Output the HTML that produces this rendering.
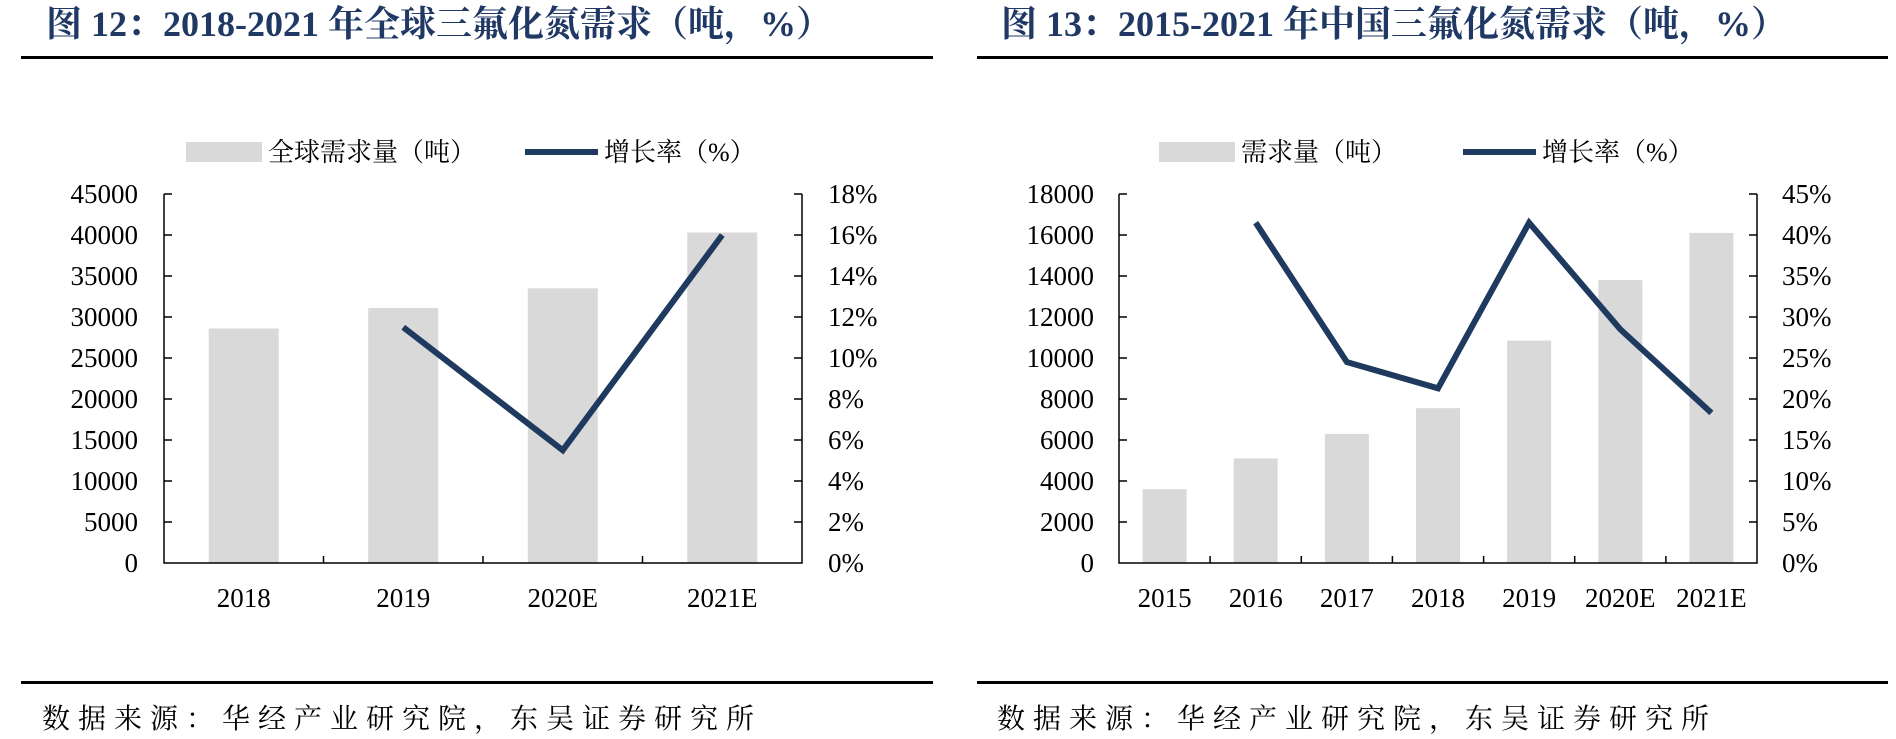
<!DOCTYPE html>
<html><head><meta charset="utf-8"><style>
body{margin:0;background:#fff;width:1896px;height:739px;overflow:hidden}
svg{display:block}
.t{font-family:"Liberation Serif","Noto Serif CJK SC",serif;font-weight:bold;font-size:36px;fill:#1f3864}
.n{font-family:"Liberation Serif",serif;font-size:27px;fill:#000}
.l{font-family:"Liberation Serif","Noto Serif CJK SC",serif;font-size:26px;fill:#000}
.s{font-family:"Liberation Serif","Noto Serif CJK SC",serif;font-size:28px;letter-spacing:8px;fill:#000}
</style></head><body>
<svg width="1896" height="739" viewBox="0 0 1896 739" xmlns="http://www.w3.org/2000/svg">
<!-- Left chart -->
<text class="t" x="46" y="36">图 12：2018-2021 年全球三氟化氮需求（吨，%）</text>
<rect x="21" y="56" width="912" height="3" fill="#000"/>
<rect x="21" y="681" width="912" height="3" fill="#000"/>
<text class="s" x="42" y="728">数据来源：华经产业研究院，东吴证券研究所</text>
<rect x="186" y="142" width="76" height="20" fill="#d9d9d9"/>
<text class="l" x="268" y="161">全球需求量（吨）</text>
<line x1="525" y1="152" x2="598" y2="152" stroke="#1f3a5f" stroke-width="6"/>
<text class="l" x="604" y="161">增长率（%）</text>
<g fill="#d9d9d9">
<rect x="208.75" y="328.5" width="70" height="234.5"/>
<rect x="368.25" y="308" width="70" height="255"/>
<rect x="527.75" y="288.3" width="70" height="274.7"/>
<rect x="687.25" y="232.5" width="70" height="330.5"/>
</g>
<g stroke="#000" stroke-width="1.5" fill="none">
<path d="M164 194V563H802V194"/>
<path d="M164 194h8M164 235h8M164 276h8M164 317h8M164 358h8M164 399h8M164 440h8M164 481h8M164 522h8"/>
<path d="M802 194h-8M802 235h-8M802 276h-8M802 317h-8M802 358h-8M802 399h-8M802 440h-8M802 481h-8M802 522h-8"/>
<path d="M323.5 563v-7M483 563v-7M642.5 563v-7"/>
</g>
<polyline points="403.25,327.3 562.75,450.3 722.25,235" fill="none" stroke="#1f3a5f" stroke-width="6" stroke-linejoin="miter"/>
<g class="n" text-anchor="end">
<text x="138" y="203">45000</text><text x="138" y="244">40000</text><text x="138" y="285">35000</text><text x="138" y="326">30000</text><text x="138" y="367">25000</text><text x="138" y="408">20000</text><text x="138" y="449">15000</text><text x="138" y="490">10000</text><text x="138" y="531">5000</text><text x="138" y="572">0</text>
</g>
<g class="n">
<text x="828" y="203">18%</text><text x="828" y="244">16%</text><text x="828" y="285">14%</text><text x="828" y="326">12%</text><text x="828" y="367">10%</text><text x="828" y="408">8%</text><text x="828" y="449">6%</text><text x="828" y="490">4%</text><text x="828" y="531">2%</text><text x="828" y="572">0%</text>
</g>
<g class="n" text-anchor="middle">
<text x="243.75" y="607">2018</text><text x="403.25" y="607">2019</text><text x="562.75" y="607">2020E</text><text x="722.25" y="607">2021E</text>
</g>
<!-- Right chart -->
<text class="t" x="1001" y="36">图 13：2015-2021 年中国三氟化氮需求（吨，%）</text>
<rect x="977" y="56" width="911" height="3" fill="#000"/>
<rect x="977" y="681" width="911" height="3" fill="#000"/>
<text class="s" x="997" y="728">数据来源：华经产业研究院，东吴证券研究所</text>
<rect x="1159" y="142" width="76" height="20" fill="#d9d9d9"/>
<text class="l" x="1241" y="161">需求量（吨）</text>
<line x1="1463" y1="152" x2="1536" y2="152" stroke="#1f3a5f" stroke-width="6"/>
<text class="l" x="1542" y="161">增长率（%）</text>
<g fill="#d9d9d9">
<rect x="1142.6" y="489.2" width="44" height="73.8"/>
<rect x="1233.7" y="458.45" width="44" height="104.55"/>
<rect x="1324.9" y="433.85" width="44" height="129.15"/>
<rect x="1416" y="408.2" width="44" height="154.8"/>
<rect x="1507.1" y="340.6" width="44" height="222.4"/>
<rect x="1598.3" y="280.1" width="44" height="282.9"/>
<rect x="1689.4" y="232.9" width="44" height="330.1"/>
</g>
<g stroke="#000" stroke-width="1.5" fill="none">
<path d="M1119 194V563H1757V194"/>
<path d="M1119 194h8M1119 235h8M1119 276h8M1119 317h8M1119 358h8M1119 399h8M1119 440h8M1119 481h8M1119 522h8"/>
<path d="M1757 194h-8M1757 235h-8M1757 276h-8M1757 317h-8M1757 358h-8M1757 399h-8M1757 440h-8M1757 481h-8M1757 522h-8"/>
<path d="M1210.1 563v-7M1301.3 563v-7M1392.4 563v-7M1483.6 563v-7M1574.7 563v-7M1665.9 563v-7"/>
</g>
<polyline points="1255.7,222.7 1346.9,362.1 1438,388.3 1529.1,222.7 1620.3,329.3 1711.4,412.9" fill="none" stroke="#1f3a5f" stroke-width="6" stroke-linejoin="miter"/>
<g class="n" text-anchor="end">
<text x="1094" y="203">18000</text><text x="1094" y="244">16000</text><text x="1094" y="285">14000</text><text x="1094" y="326">12000</text><text x="1094" y="367">10000</text><text x="1094" y="408">8000</text><text x="1094" y="449">6000</text><text x="1094" y="490">4000</text><text x="1094" y="531">2000</text><text x="1094" y="572">0</text>
</g>
<g class="n">
<text x="1782" y="203">45%</text><text x="1782" y="244">40%</text><text x="1782" y="285">35%</text><text x="1782" y="326">30%</text><text x="1782" y="367">25%</text><text x="1782" y="408">20%</text><text x="1782" y="449">15%</text><text x="1782" y="490">10%</text><text x="1782" y="531">5%</text><text x="1782" y="572">0%</text>
</g>
<g class="n" text-anchor="middle">
<text x="1164.6" y="607">2015</text><text x="1255.7" y="607">2016</text><text x="1346.9" y="607">2017</text><text x="1438" y="607">2018</text><text x="1529.1" y="607">2019</text><text x="1620.3" y="607">2020E</text><text x="1711.4" y="607">2021E</text>
</g>
</svg>
</body></html>
